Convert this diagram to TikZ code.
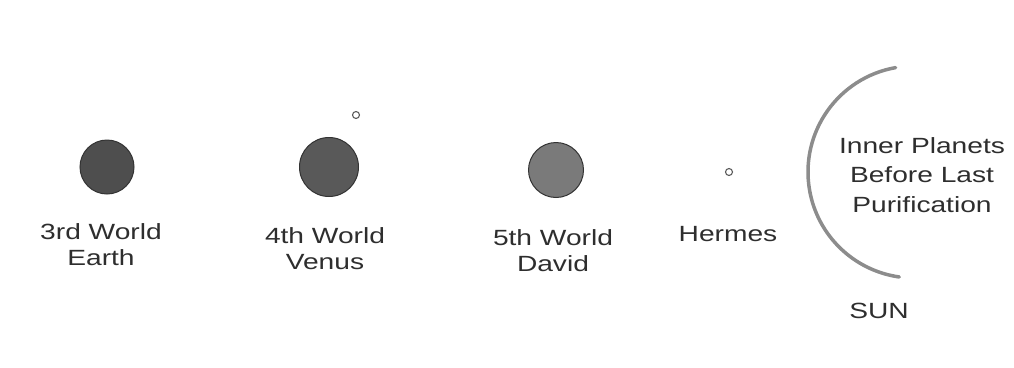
\documentclass[tikz,border=0pt]{standalone}
\usepackage{fontspec}
\setmainfont{Liberation Sans}
\newcommand\hstretch[1]{\scalebox{1.28}[1]{#1}}
\definecolor{earthc}{HTML}{4E4E4E}
\definecolor{venusc}{HTML}{595959}
\definecolor{davidc}{HTML}{7A7A7A}
\definecolor{rimc}{HTML}{333333}
\definecolor{arcc}{HTML}{8C8C8C}
\definecolor{txtc}{HTML}{2E2E2E}
\begin{document}
\begin{tikzpicture}[x=1pt,y=-1pt,
  planet/.style={circle,draw=rimc,line width=1pt,inner sep=0pt},
  dot/.style={circle,draw=rimc!80,fill=white,line width=1.1pt,inner sep=0pt,minimum size=7pt},
  lbl/.style={align=center,inner sep=0pt,anchor=base,text=txtc,
    font=\fontsize{22}{25.5}\selectfont},
  sunlbl/.style={lbl,font=\fontsize{22}{29.5}\selectfont}]
\useasboundingbox (0,0) rectangle (1014,367);
% planets
\node[planet,fill=earthc,minimum size=54pt] (earth) at (107,167) {};
\node[planet,fill=venusc,minimum size=59pt] (venus) at (329,167) {};
\node[dot] (moon) at (356,115) {};
\node[planet,fill=davidc,minimum size=55pt] (david) at (556,170) {};
\node[dot] (hermes) at (729,172) {};
% sun arc
\coordinate (sun) at (914,172);
\draw[arcc,line width=3.5pt,line cap=round] (sun) ++(100:106pt) arc[start angle=100,end angle=262,radius=106pt];
% labels (anchor base = baseline of last line)
\node[lbl] (earthlbl) at (101,265) {\hstretch{3rd World}\\\hstretch{Earth}};
\node[lbl] (venuslbl) at (325,269) {\hstretch{4th World}\\\hstretch{Venus}};
\node[lbl] (davidlbl) at (553,271) {\hstretch{5th World}\\\hstretch{David}};
\node[lbl] (hermeslbl) at (728,241) {\hstretch{Hermes}};
\node[sunlbl] (innerlbl) at (922,212) {\hstretch{Inner Planets}\\\hstretch{Before Last}\\\hstretch{Purification}};
\node[lbl] (sunlbl) at (879,318) {\hstretch{SUN}};
\end{tikzpicture}
\end{document}
